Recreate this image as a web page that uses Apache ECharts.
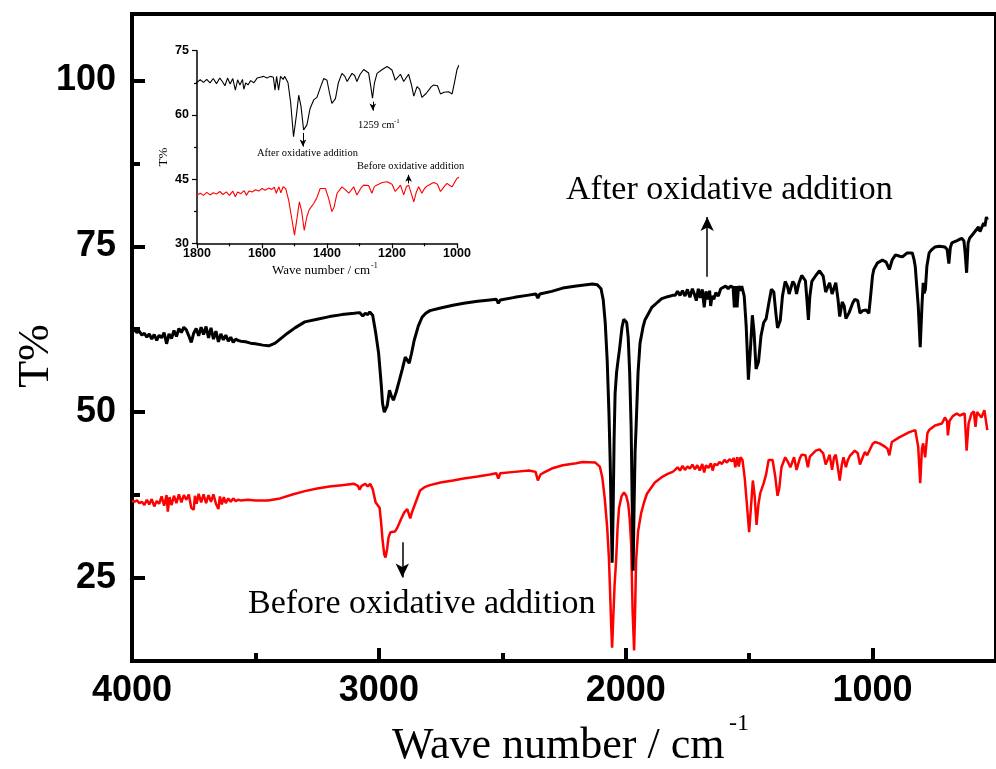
<!DOCTYPE html>
<html>
<head>
<meta charset="utf-8">
<script src="https://cdn.jsdelivr.net/npm/echarts@6/dist/echarts.min.js"></script>
<style>
html,body{margin:0;padding:0;background:#fff;}
#chart{width:996px;height:769px;}
</style>
</head>
<body>
<div id="chart"></div>
<script>
// ---- data: [wavenumber (cm-1), T%] ----
const afterAddition = [
[4000,62.3],[3990,62.4],[3980,62.0],[3970,62.2],[3960,61.6],[3950,61.9],[3940,61.3],[3930,61.8],[3920,61.0],[3910,61.7],
[3900,60.8],[3890,61.6],[3880,61.2],[3870,62.0],[3860,60.3],[3850,61.8],[3840,61.1],[3830,62.3],[3820,61.4],[3810,62.6],
[3800,62.0],[3790,62.8],[3780,62.4],[3770,61.5],[3760,60.5],[3750,61.9],[3740,62.6],[3730,61.5],[3720,62.8],[3710,61.7],
[3700,62.9],[3690,61.2],[3680,62.7],[3670,61.0],[3660,62.2],[3650,60.6],[3640,61.8],[3630,60.9],[3620,61.6],[3610,60.7],
[3600,61.3],[3590,60.5],[3580,61.0],[3570,60.8],[3560,60.7],[3540,60.6],[3520,60.4],[3500,60.3],[3470,60.1],[3446,60.0],
[3420,60.4],[3400,61.0],[3370,61.9],[3340,62.7],[3300,63.6],[3250,64.0],[3200,64.4],[3150,64.7],[3100,64.9],[3078,65.0],
[3065,64.5],[3055,64.9],[3045,64.7],[3037,65.1],[3025,64.6],[3013,62.0],[3001,58.9],[2990,54.0],[2985,51.3],[2978,50.0],
[2973,49.7],[2966,51.0],[2957,53.3],[2950,52.5],[2941,51.8],[2930,53.0],[2917,54.8],[2905,56.5],[2893,58.3],[2885,58.6],
[2877,57.4],[2868,58.8],[2857,60.8],[2840,63.0],[2825,64.3],[2810,64.9],[2793,65.3],[2750,65.7],[2700,66.1],[2656,66.4],
[2600,66.7],[2550,66.9],[2524,67.0],[2516,66.4],[2508,66.9],[2450,67.3],[2400,67.6],[2364,67.8],[2356,67.2],[2348,67.8],
[2300,68.2],[2255,68.7],[2200,69.0],[2135,69.3],[2115,69.2],[2100,68.6],[2091,66.9],[2083,63.5],[2075,57.8],[2068,50.0],
[2063,42.7],[2058,33.0],[2055,27.3],[2051,35.0],[2047,46.0],[2043,52.8],[2037,56.0],[2031,57.8],[2025,59.5],[2015,62.8],
[2008,64.0],[2003,64.3],[1996,63.5],[1990,61.3],[1984,56.0],[1978,47.7],[1974,37.0],[1970,26.1],[1966,36.0],[1962,44.0],
[1958,47.7],[1950,56.0],[1942,60.4],[1930,62.8],[1922,63.9],[1894,65.8],[1870,66.6],[1854,67.1],[1830,67.4],[1810,67.6],
[1800,67.6],[1790,68.2],[1780,67.6],[1770,68.3],[1760,67.5],[1750,68.5],[1740,67.3],[1730,68.6],[1722,67.8],[1714,66.8],
[1706,68.6],[1698,67.2],[1690,68.5],[1682,65.8],[1675,68.2],[1668,67.0],[1660,68.3],[1656,66.0],[1650,67.5],[1643,67.0],
[1635,68.0],[1625,67.5],[1615,68.6],[1605,68.8],[1595,69.0],[1585,68.6],[1575,69.0],[1565,68.8],[1560,65.8],[1555,69.0],
[1549,65.8],[1543,69.0],[1535,68.3],[1530,69.0],[1520,67.5],[1512,63.0],[1503,54.9],[1494,60.0],[1487,64.6],[1480,62.0],
[1472,56.5],[1462,57.6],[1452,61.5],[1441,63.5],[1431,64.1],[1420,66.5],[1410,68.5],[1400,68.1],[1392,65.0],[1385,62.7],
[1374,63.8],[1365,67.5],[1354,69.7],[1345,69.0],[1338,67.8],[1323,69.7],[1315,69.2],[1308,67.8],[1298,69.5],[1287,70.6],
[1272,69.8],[1266,67.0],[1260,63.9],[1254,67.5],[1246,69.7],[1230,70.6],[1215,71.3],[1200,70.5],[1190,68.1],[1174,69.5],
[1164,67.8],[1149,69.5],[1140,67.0],[1133,64.4],[1123,66.6],[1115,66.0],[1108,64.1],[1095,65.0],[1080,66.5],[1072,67.0],
[1060,66.8],[1051,64.9],[1040,65.3],[1026,65.4],[1015,64.9],[1008,67.5],[1000,70.6],[995,71.5],[980,72.5],[960,72.9],
[945,72.6],[932,71.5],[920,73.0],[907,73.7],[890,73.5],[879,73.4],[860,74.0],[839,74.0],[832,73.0],[827,71.9],
[815,66.0],[807,59.8],[800,66.0],[795,69.5],[791,67.9],[786,68.5],[780,72.0],[771,74.0],[760,74.5],[747,74.9],
[730,75.0],[707,74.9],[698,74.5],[691,72.4],[685,74.8],[679,75.5],[660,75.8],[650,76.0],[639,76.2],[630,75.8],
[625,74.0],[619,71.0],[613,75.5],[607,76.2],[590,77.0],[571,77.9],[565,77.2],[559,77.0],[550,78.5],[545,78.0],
[539,79.4],[535,79.0]
];

const beforeAddition = [
[4000,36.6],[3990,36.5],[3980,36.7],[3970,36.3],[3960,36.5],[3950,36.0],[3940,36.8],[3930,36.1],[3920,36.9],[3910,35.8],
[3900,36.6],[3890,36.2],[3880,37.3],[3870,35.9],[3860,37.5],[3855,35.0],[3848,37.2],[3840,36.0],[3830,37.4],[3820,36.3],
[3810,37.6],[3800,36.4],[3790,37.5],[3780,36.8],[3770,37.6],[3760,35.6],[3750,35.3],[3745,37.4],[3738,36.2],[3730,37.7],
[3720,36.4],[3710,37.6],[3700,36.3],[3690,37.5],[3680,36.5],[3670,37.6],[3660,36.2],[3650,35.4],[3644,37.3],[3636,36.1],
[3628,37.2],[3620,36.3],[3610,37.0],[3600,36.5],[3590,37.0],[3580,36.6],[3570,36.8],[3560,36.7],[3530,36.8],[3500,36.7],
[3450,36.7],[3400,37.0],[3350,37.6],[3300,38.1],[3250,38.5],[3200,38.8],[3150,39.0],[3100,39.2],[3085,38.9],[3078,38.3],
[3070,38.9],[3055,39.2],[3045,38.8],[3035,39.2],[3025,38.4],[3013,36.4],[3005,36.2],[2997,35.6],[2990,33.0],[2985,30.7],
[2978,28.5],[2973,28.1],[2966,29.5],[2961,31.1],[2953,31.9],[2945,31.7],[2935,32.0],[2925,32.6],[2910,33.9],[2897,34.9],
[2885,35.4],[2878,34.6],[2873,34.0],[2865,35.0],[2853,36.2],[2833,38.2],[2815,38.7],[2793,39.0],[2750,39.4],[2700,39.7],
[2656,40.0],[2600,40.3],[2550,40.6],[2524,40.8],[2516,40.0],[2508,40.8],[2450,41.0],[2392,41.2],[2365,41.0],[2356,39.7],
[2345,40.6],[2336,40.8],[2300,41.5],[2255,42.0],[2200,42.3],[2175,42.5],[2123,42.4],[2105,41.8],[2095,40.2],[2085,37.0],
[2075,32.6],[2068,28.0],[2063,22.6],[2059,18.0],[2055,14.5],[2051,18.5],[2045,24.0],[2039,27.6],[2033,32.5],[2027,35.6],
[2017,37.3],[2007,37.9],[1998,37.4],[1990,36.2],[1984,34.0],[1978,30.2],[1972,20.0],[1966,14.1],[1962,20.0],[1958,27.6],
[1950,32.0],[1938,34.7],[1925,36.5],[1914,37.7],[1882,39.4],[1854,40.2],[1830,40.7],[1810,41.0],
[1800,41.3],[1790,41.7],[1780,41.2],[1770,41.9],[1760,41.3],[1750,41.8],[1740,41.5],[1730,42.1],[1720,41.4],[1710,42.0],
[1700,41.2],[1690,42.2],[1682,40.9],[1675,42.0],[1665,41.6],[1655,42.3],[1648,41.2],[1640,42.2],[1630,42.0],[1620,42.5],
[1610,42.2],[1600,42.8],[1590,42.4],[1580,42.9],[1570,42.6],[1562,43.1],[1556,41.7],[1548,43.2],[1542,41.8],[1535,43.2],
[1527,42.8],[1518,40.1],[1510,36.5],[1500,31.9],[1492,36.0],[1485,39.7],[1478,37.5],[1470,33.0],[1462,36.2],[1455,37.8],
[1441,39.3],[1432,40.5],[1421,42.8],[1405,42.8],[1395,40.5],[1385,37.4],[1378,38.5],[1369,41.7],[1354,43.2],[1343,42.5],
[1333,41.7],[1318,43.2],[1308,41.3],[1295,43.0],[1287,43.6],[1272,43.5],[1262,41.7],[1254,43.3],[1246,43.6],[1230,44.2],
[1215,44.4],[1200,43.8],[1190,42.1],[1180,43.0],[1174,43.6],[1164,41.3],[1156,43.2],[1149,43.6],[1140,41.5],[1133,39.7],
[1125,42.0],[1118,43.2],[1108,41.7],[1100,42.8],[1092,43.4],[1072,44.2],[1060,43.8],[1051,42.1],[1040,43.2],[1031,44.0],
[1022,43.5],[1015,43.2],[1000,45.2],[990,45.5],[972,45.3],[950,44.8],[940,44.5],[932,43.5],[922,45.5],[892,46.2],
[851,47.0],[827,47.3],[815,44.7],[807,39.3],[800,44.5],[795,45.3],[787,43.2],[778,46.8],[771,47.3],[747,48.0],
[719,48.3],[707,49.2],[698,48.6],[695,46.5],[688,48.7],[675,49.4],[659,49.8],[647,49.5],[627,49.8],[619,44.2],
[611,48.3],[599,49.8],[590,50.1],[583,47.8],[577,50.0],[571,50.0],[559,49.2],[547,50.3],[540,48.5],[535,47.3]
];

const mainXTicks = [1000, 2000, 3000, 4000];
const mainXMinorTicks = [1500, 2500, 3500];
const mainYTicks = [25, 50, 75, 100];
const mainYMinorTicks = [37.5, 62.5, 87.5];

// annotation arrows [wavenumber, from T, to T]
const mainArrowAfter = [1670, 70.4, 79.4];
const mainArrowBefore = [2905, 30.4, 25.1];
const insetArrowAfter = [1474, 55.8, 52.6];
const insetArrow1259 = [1259, 63.1, 61.0];
const insetArrowBefore = [1149, 44.0, 46.0];

const SANS = 'Liberation Sans';
const SERIF = 'Liberation Serif';
const plain = function (v) { return String(v); };

function arrow(a, size, width) {
  return {
    silent: true,
    symbol: ['none', 'arrow'],
    symbolSize: size,
    lineStyle: { color: '#000', width: width, type: 'solid' },
    label: { show: false },
    emphasis: { disabled: true },
    data: [[{ coord: [a[0], a[1]] }, { coord: [a[0], a[2]] }]]
  };
}

function txt(text, x, y, size, opts) {
  opts = opts || {};
  return {
    type: 'text', x: x, y: y, rotation: opts.rotation || 0, z: 100,
    style: {
      text: text, fill: '#000',
      font: (opts.weight || 'normal') + ' ' + size + 'px "' + (opts.family || SERIF) + '"',
      align: opts.align || 'left', verticalAlign: 'middle',
      textAlign: opts.align || 'left', textVerticalAlign: 'middle'
    }
  };
}

const chart = echarts.init(document.getElementById('chart'), null, { renderer: 'canvas' });

const option = {
  animation: false,
  backgroundColor: '#fff',
  grid: [
    { left: 132, right: -8.7, top: 14, bottom: 108, show: true, borderColor: '#000', borderWidth: 4, backgroundColor: 'transparent' },
    { left: 197, top: 50.7, width: 260, height: 192.6 }
  ],
  xAxis: [
    {
      gridIndex: 0, type: 'value', min: 500, max: 4000, inverse: true, position: 'bottom',
      axisLine: { show: true, onZero: false, lineStyle: { color: '#000', width: 4 } },
      axisTick: { show: true, inside: true, length: 13, lineStyle: { color: '#000', width: 4 }, customValues: mainXTicks },
      axisLabel: { customValues: mainXTicks, formatter: plain, fontSize: 36, fontWeight: 'bold', fontFamily: SANS, color: '#000', margin: 12 },
      splitLine: { show: false }
    },
    {
      gridIndex: 0, type: 'value', min: 500, max: 4000, inverse: true, position: 'bottom',
      axisLine: { show: false, onZero: false },
      axisTick: { show: true, inside: true, length: 8, lineStyle: { color: '#000', width: 4 }, customValues: mainXMinorTicks },
      axisLabel: { show: false },
      splitLine: { show: false }
    },
    {
      gridIndex: 1, type: 'value', min: 1000, max: 1800, interval: 200, inverse: true, position: 'bottom',
      axisLine: { show: true, onZero: false, lineStyle: { color: '#000', width: 1.5 } },
      axisTick: { show: true, inside: false, length: 5, lineStyle: { color: '#000', width: 1.2 } },
      minorTick: { show: true, splitNumber: 2, length: 3, lineStyle: { color: '#000', width: 1.2 } },
      axisLabel: { formatter: plain, fontSize: 12.5, fontWeight: 'bold', fontFamily: SANS, color: '#000', margin: 4 },
      splitLine: { show: false }
    }
  ],
  yAxis: [
    {
      gridIndex: 0, type: 'value', min: 12.5, max: 110, position: 'left',
      axisLine: { show: true, onZero: false, lineStyle: { color: '#000', width: 4 } },
      axisTick: { show: true, inside: true, length: 13, lineStyle: { color: '#000', width: 4 }, customValues: mainYTicks },
      axisLabel: { customValues: mainYTicks, formatter: plain, fontSize: 36, fontWeight: 'bold', fontFamily: SANS, color: '#000', margin: 16 },
      splitLine: { show: false }
    },
    {
      gridIndex: 0, type: 'value', min: 12.5, max: 110, position: 'left',
      axisLine: { show: false, onZero: false },
      axisTick: { show: true, inside: true, length: 8, lineStyle: { color: '#000', width: 4 }, customValues: mainYMinorTicks },
      axisLabel: { show: false },
      splitLine: { show: false }
    },
    {
      gridIndex: 1, type: 'value', min: 30, max: 75, interval: 15, position: 'left',
      axisLine: { show: true, onZero: false, lineStyle: { color: '#000', width: 1.5 } },
      axisTick: { show: true, inside: false, length: 5, lineStyle: { color: '#000', width: 1.2 } },
      minorTick: { show: true, splitNumber: 2, length: 3, lineStyle: { color: '#000', width: 1.2 } },
      axisLabel: { formatter: plain, fontSize: 12.5, fontWeight: 'bold', fontFamily: SANS, color: '#000', margin: 8 },
      splitLine: { show: false }
    }
  ],
  series: [
    {
      name: 'Before oxidative addition', type: 'line', xAxisIndex: 0, yAxisIndex: 0,
      data: beforeAddition, showSymbol: false, symbol: 'none', z: 2,
      lineStyle: { color: '#ff0000', width: 2.5 },
      markLine: arrow(mainArrowBefore, [10, 14], 1.5)
    },
    {
      name: 'After oxidative addition', type: 'line', xAxisIndex: 0, yAxisIndex: 0,
      data: afterAddition, showSymbol: false, symbol: 'none', z: 3,
      lineStyle: { color: '#000000', width: 3 },
      markLine: arrow(mainArrowAfter, [10, 14], 1.5)
    },
    {
      name: 'Before (inset)', type: 'line', xAxisIndex: 2, yAxisIndex: 2,
      data: beforeAddition, showSymbol: false, symbol: 'none', clip: true, z: 4,
      lineStyle: { color: '#ff0000', width: 1.1 },
      markLine: arrow(insetArrowBefore, [5, 7], 1)
    },
    {
      name: 'After (inset)', type: 'line', xAxisIndex: 2, yAxisIndex: 2,
      data: afterAddition, showSymbol: false, symbol: 'none', clip: true, z: 5,
      lineStyle: { color: '#000000', width: 1.1 },
      markLine: {
        silent: true, symbol: ['none', 'arrow'], symbolSize: [5, 7],
        lineStyle: { color: '#000', width: 1, type: 'solid' }, label: { show: false },
        emphasis: { disabled: true },
        data: [
          [{ coord: [insetArrowAfter[0], insetArrowAfter[1]] }, { coord: [insetArrowAfter[0], insetArrowAfter[2]] }],
          [{ coord: [insetArrow1259[0], insetArrow1259[1]] }, { coord: [insetArrow1259[0], insetArrow1259[2]] }]
        ]
      }
    }
  ],
  graphic: [
    txt('After oxidative addition', 566, 190, 34),
    txt('Before oxidative addition', 248, 604, 34),
    txt('Wave number / cm', 392, 746, 44),
    txt('-1', 729, 724, 24),
    txt('T%', 36, 356, 44, { rotation: Math.PI / 2, align: 'center' }),
    txt('After oxidative addition', 257, 153, 10.5),
    txt('1259 cm', 358, 125, 10.5),
    txt('-1', 394, 121, 7),
    txt('Before oxidative addition', 357, 166, 10.5),
    txt('Wave number / cm', 272, 271, 13),
    txt('-1', 371, 266, 8),
    txt('T%', 164, 157, 13, { rotation: Math.PI / 2, align: 'center' })
  ]
};

chart.setOption(option);
</script>
</body>
</html>
